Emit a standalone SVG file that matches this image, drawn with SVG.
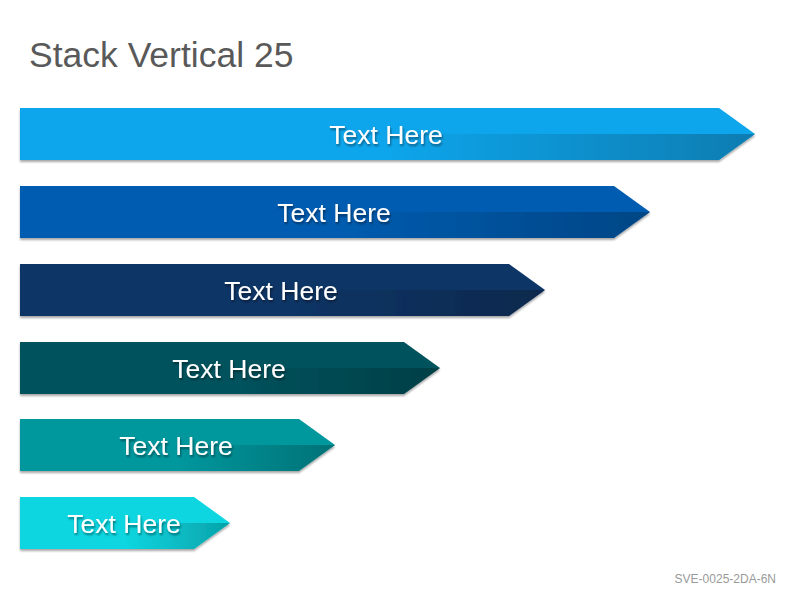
<svg xmlns="http://www.w3.org/2000/svg" width="800" height="600" viewBox="0 0 800 600">
<defs>
<linearGradient id="shade" x1="0" y1="0" x2="1" y2="0">
<stop offset="0" stop-color="#000" stop-opacity="0"/>
<stop offset="0.5" stop-color="#000" stop-opacity="0"/>
<stop offset="0.95" stop-color="#000" stop-opacity="0.22"/>
<stop offset="1" stop-color="#000" stop-opacity="0.25"/>
</linearGradient>
<filter id="sh" x="-5%" y="-20%" width="110%" height="150%">
<feGaussianBlur in="SourceAlpha" stdDeviation="1.2"/>
<feOffset dx="0" dy="2" result="b"/>
<feComponentTransfer><feFuncA type="linear" slope="0.35"/></feComponentTransfer>
<feMerge><feMergeNode/><feMergeNode in="SourceGraphic"/></feMerge>
</filter>
<filter id="tsh" x="-10%" y="-30%" width="120%" height="160%">
<feGaussianBlur in="SourceAlpha" stdDeviation="1.2"/>
<feOffset dx="1" dy="2"/>
<feComponentTransfer><feFuncA type="linear" slope="0.45"/></feComponentTransfer>
<feMerge><feMergeNode/><feMergeNode in="SourceGraphic"/></feMerge>
</filter>
</defs>
<style>
.lbl{font-family:"Liberation Sans",Arial,sans-serif;font-size:26.5px;fill:#fff;text-anchor:middle;filter:url(#tsh)}
.shade{fill:url(#shade)}
</style>
<rect width="800" height="600" fill="#fff"/>
<text x="29" y="67" font-family="Liberation Sans,Arial,sans-serif" font-size="35.5" fill="#595959">Stack Vertical 25</text>
<g id="bar1" filter="url(#sh)">
<polygon points="20,108 719,108 755,134 719,160 20,160" fill="#0AA5EB"/>
<polygon class="shade" points="20,134 755,134 719,160 20,160"/>
<text class="lbl" x="386" y="144">Text Here</text>
</g>
<g id="bar2" filter="url(#sh)">
<polygon points="20,186 614,186 650,212 614,238 20,238" fill="#045CB0"/>
<polygon class="shade" points="20,212 650,212 614,238 20,238"/>
<text class="lbl" x="334" y="222">Text Here</text>
</g>
<g id="bar3" filter="url(#sh)">
<polygon points="20,264 509,264 545,290 509,316 20,316" fill="#0A3566"/>
<polygon class="shade" points="20,290 545,290 509,316 20,316"/>
<text class="lbl" x="281" y="300">Text Here</text>
</g>
<g id="bar4" filter="url(#sh)">
<polygon points="20,342 404,342 440,368 404,394 20,394" fill="#03535D"/>
<polygon class="shade" points="20,368 440,368 404,394 20,394"/>
<text class="lbl" x="229" y="378">Text Here</text>
</g>
<g id="bar5" filter="url(#sh)">
<polygon points="20,419 299,419 335,445 299,471 20,471" fill="#03979D"/>
<polygon class="shade" points="20,445 335,445 299,471 20,471"/>
<text class="lbl" x="176" y="455">Text Here</text>
</g>
<g id="bar6" filter="url(#sh)">
<polygon points="20,497 194,497 230,523 194,549 20,549" fill="#08D6E0"/>
<polygon class="shade" points="20,523 230,523 194,549 20,549"/>
<text class="lbl" x="124" y="533">Text Here</text>
</g>
<text x="776" y="583" font-family="Liberation Sans,Arial,sans-serif" font-size="12" fill="#9a9a9a" text-anchor="end">SVE-0025-2DA-6N</text>
</svg>
